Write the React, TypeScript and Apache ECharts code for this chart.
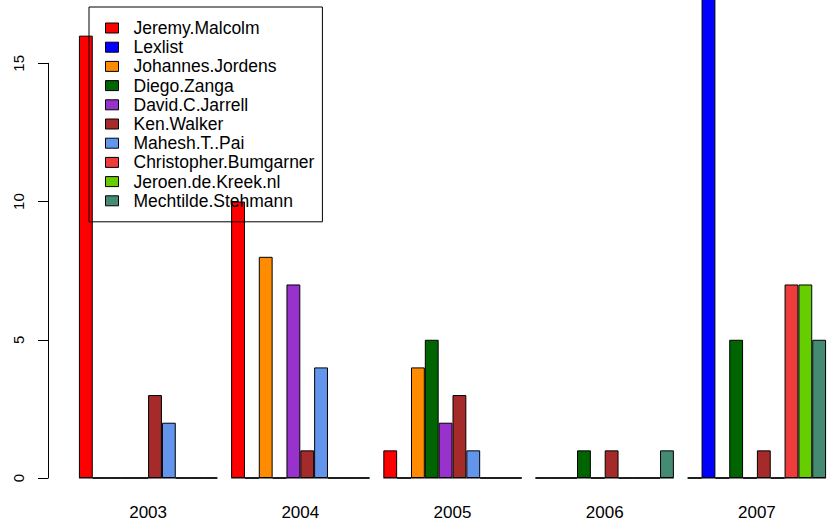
import React, { useEffect, useRef } from "react";
import * as echarts from "echarts";

const years = ["2003", "2004", "2005", "2006", "2007"];
const names = [
  "Jeremy.Malcolm",
  "Lexlist",
  "Johannes.Jordens",
  "Diego.Zanga",
  "David.C.Jarrell",
  "Ken.Walker",
  "Mahesh.T..Pai",
  "Christopher.Bumgarner",
  "Jeroen.de.Kreek.nl",
  "Mechtilde.Stehmann",
];
const colors = [
  "#FF0000",
  "#0000FF",
  "#FF8C00",
  "#006400",
  "#9932CC",
  "#A52A2A",
  "#6495ED",
  "#EE3B3B",
  "#66CD00",
  "#458B74",
];
const jeremy = [16, 10, 1, 0, 0];
const lexlist = [0, 0, 0, 0, 18];
const johannes = [0, 8, 4, 0, 0];
const diego = [0, 0, 5, 1, 5];
const david = [0, 7, 2, 0, 0];
const ken = [3, 1, 3, 1, 1];
const mahesh = [2, 4, 1, 0, 0];
const christopher = [0, 0, 0, 0, 7];
const jeroen = [0, 0, 0, 0, 7];
const mechtilde = [0, 0, 0, 1, 5];
const seriesValues = [jeremy, lexlist, johannes, diego, david, ken, mahesh, christopher, jeroen, mechtilde];
const yTicks = { min: 0, max: 15, interval: 5 };

const FONT = "'Liberation Sans', Arial, Helvetica, sans-serif";

export default function App() {
  const ref = useRef<HTMLDivElement>(null);
  useEffect(() => {
    if (!ref.current) return;
    const chart = echarts.init(ref.current, undefined, { renderer: "svg" });
    const nBars = names.length;
    const barSeries = names.map((name, i) => ({
      name,
      type: "bar",
      data: seriesValues[i],
      barGap: "0%",
      barCategoryGap: (100 / (nBars + 1)).toFixed(4) + "%",
      clip: false,
      itemStyle: { color: colors[i], borderColor: "#000", borderWidth: 1 },
      emphasis: { disabled: true },
    }));
    const baseline = {
      type: "custom",
      name: "baseline",
      data: years.map((_, i) => [i, 0]),
      clip: false,
      z: 3,
      renderItem: (params: any, api: any) => {
        const idx = api.value(0);
        const c = api.coord([idx, 0]);
        const bw = api.size([1, 0])[0];
        const half = (bw * nBars) / (nBars + 1) / 2;
        return {
          type: "line",
          shape: { x1: c[0] - half, y1: c[1], x2: c[0] + half, y2: c[1] },
          style: { stroke: "#000", lineWidth: 1 },
        };
      },
    };
    chart.setOption({
      animation: false,
      backgroundColor: "#fff",
      textStyle: { fontFamily: FONT },
      grid: { left: 72, right: -6.5, top: 63.3, bottom: 42.7, containLabel: false },
      xAxis: {
        type: "category",
        data: years,
        axisLine: { show: false },
        axisTick: { show: false },
        axisLabel: { color: "#000", fontSize: 17, fontFamily: FONT, margin: 26 },
        splitLine: { show: false },
      },
      yAxis: {
        type: "value",
        min: yTicks.min,
        max: yTicks.max,
        interval: yTicks.interval,
        offset: 24,
        axisLine: { show: true, lineStyle: { color: "#000", width: 1 } },
        axisTick: { show: true, length: 10, lineStyle: { color: "#000", width: 1 } },
        axisLabel: { color: "#000", fontSize: 15, fontFamily: FONT, rotate: 90, margin: 22 },
        splitLine: { show: false },
      },
      legend: {
        show: true,
        data: names,
        orient: "vertical",
        left: 89,
        top: 7,
        padding: [12, 8, 12, 16],
        itemWidth: 13,
        itemHeight: 10,
        itemGap: 1.2,
        icon: "rect",
        borderColor: "#000",
        borderWidth: 1,
        backgroundColor: "transparent",
        itemStyle: { borderColor: "#000", borderWidth: 1 },
        textStyle: { color: "#000", fontSize: 17.5, fontFamily: FONT, lineHeight: 18, padding: [0, 0, 0, 10] },
        selectedMode: false,
        z: 10,
      },
      series: [...barSeries, baseline],
    });
    return () => chart.dispose();
  }, []);
  return (
    <div
      ref={ref}
      style={{ position: "fixed", left: 0, top: 0, width: 833, height: 521 }}
    />
  );
}
